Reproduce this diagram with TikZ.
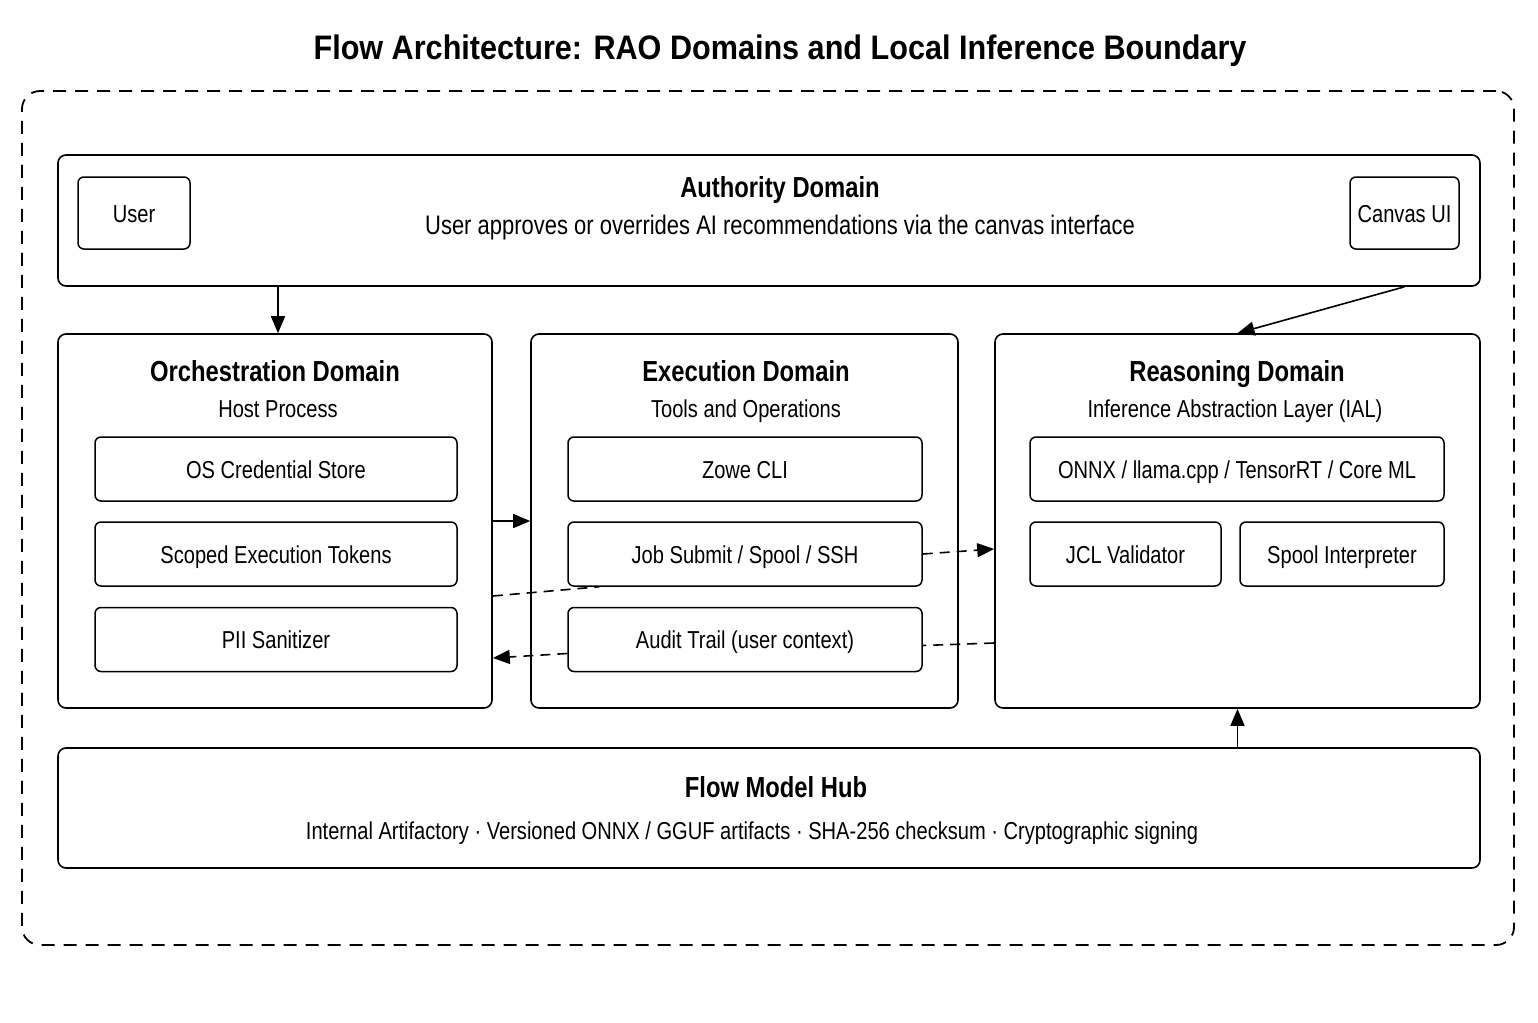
\documentclass[tikz,border=0pt]{standalone}
\usepackage{fontspec}
\setmainfont[FakeStretch=0.82]{Liberation Sans}
\newfontfamily\titlefont[FakeStretch=0.9]{Liberation Sans}
\usetikzlibrary{arrows.meta,calc}
\tikzset{
  fixb/.style={text height=18pt, text depth=0pt},
  fixt/.style={text height=21pt, text depth=0pt},
  dom/.style={draw, line width=1.6pt, rounded corners=8pt, inner sep=0pt},
  sub/.style={draw, line width=1.5pt, rounded corners=6pt, inner sep=0pt, fixb, font=\fontsize{24.5}{28}\selectfont},
  ttl/.style={font=\bfseries\fontsize{29}{32}\selectfont, inner sep=0pt, fixt},
  txt/.style={font=\fontsize{24.5}{28}\selectfont, inner sep=0pt, fixb},
  arr/.style={line width=1.6pt, -{Triangle[length=17pt,width=14pt]}},
  dsh/.style={line width=1.6pt, dash pattern=on 10pt off 7pt},
}
\begin{document}
\begin{tikzpicture}[x=1pt,y=-1pt]
\useasboundingbox (0,0) rectangle (1538,1022);
\fill[white] (0,0) rectangle (1538,1022);
\node[font=\titlefont\bfseries\fontsize{34}{40}\selectfont, inner sep=0pt, text height=25pt, text depth=0pt] (title) at (780,47) {Flow Architecture: RAO Domains and Local Inference Boundary};
\node[draw, line width=1.8pt, dash pattern=on 13pt off 9pt, rounded corners=18pt, minimum width=1492pt, minimum height=854pt, inner sep=0pt] (outer) at (768,518) {};
% authority
\node[dom, minimum width=1422pt, minimum height=131pt] (auth) at (769,220.5) {};
\node[ttl] (authT) at (780,187) {Authority Domain};
\node[txt, font=\fontsize{26.8}{30}\selectfont, text height=19.5pt] (authS) at (780,225) {User approves or overrides AI recommendations via the canvas interface};
\node[sub, minimum width=112pt, minimum height=72pt] (user) at (134,213) {User};
\node[sub, minimum width=109pt, minimum height=72pt] (canvas) at (1404.5,213) {Canvas UI};
% orchestration
\node[dom, minimum width=434pt, minimum height=374pt] (orch) at (275,521) {};
\node[ttl] (orchT) at (275,371) {Orchestration Domain};
\node[txt] (orchS) at (278,408) {Host Process};
\node[sub, minimum width=362pt, minimum height=64pt] (cred) at (276,469) {OS Credential Store};
\node[sub, minimum width=362pt, minimum height=64pt] (tok) at (276,554) {Scoped Execution Tokens};
\node[sub, minimum width=362pt, minimum height=64pt] (pii) at (276,639.5) {PII Sanitizer};
% execution
\node[dom, minimum width=427pt, minimum height=374pt] (exec) at (744.5,521) {};
\node[ttl] (execT) at (746,371) {Execution Domain};
\node[txt] (execS) at (746,408) {Tools and Operations};
\node[sub, minimum width=354pt, minimum height=64pt] (zowe) at (745,469) {Zowe CLI};
\node[sub, minimum width=354pt, minimum height=64pt] (job) at (745,554) {Job Submit / Spool / SSH};
\node[sub, minimum width=354pt, minimum height=64pt] (audit) at (745,639.5) {Audit Trail (user context)};
% reasoning
\node[dom, minimum width=485pt, minimum height=374pt] (reas) at (1237.5,521) {};
\node[ttl] (reasT) at (1237,371) {Reasoning Domain};
\node[txt] (reasS) at (1235,408) {Inference Abstraction Layer (IAL)};
\node[sub, minimum width=414pt, minimum height=64pt] (onnx) at (1237,469) {ONNX / llama.cpp / TensorRT / Core ML};
\node[sub, minimum width=191pt, minimum height=64pt] (jcl) at (1125.5,554) {JCL Validator};
\node[sub, minimum width=204pt, minimum height=64pt] (spool) at (1342,554) {Spool Interpreter};
% hub
\node[dom, minimum width=1422pt, minimum height=120pt] (hub) at (769,808) {};
\node[ttl] (hubT) at (776,787) {Flow Model Hub};
\node[txt] (hubS) at (752,830) {Internal Artifactory · Versioned ONNX / GGUF artifacts · SHA-256 checksum · Cryptographic signing};
% connectors
\draw[arr] (auth.south -| orchS) -- (orch.north -| orchS);
\draw[arr] (auth.south -| canvas.center) -- (reas.north);
\draw[arr] (hub.north -| reas.south) -- (reas.south);
\draw[arr] (orch.east) -- (exec.west);
\draw[dsh] ($(orch.east)+(0,75)$) -- ($(job.south west)+(32,0)$);
\draw[dsh, -{Triangle[length=17pt,width=14pt]}] (job.east) -- ($(reas.west)+(0,28)$);
\draw[dsh] ($(reas.west)+(0,122)$) -- ($(audit.east)+(0,6)$);
\draw[dsh, -{Triangle[length=17pt,width=14pt]}] ($(audit.west)+(0,14)$) -- ($(orch.east)+(0,137)$);
\end{tikzpicture}
\end{document}
